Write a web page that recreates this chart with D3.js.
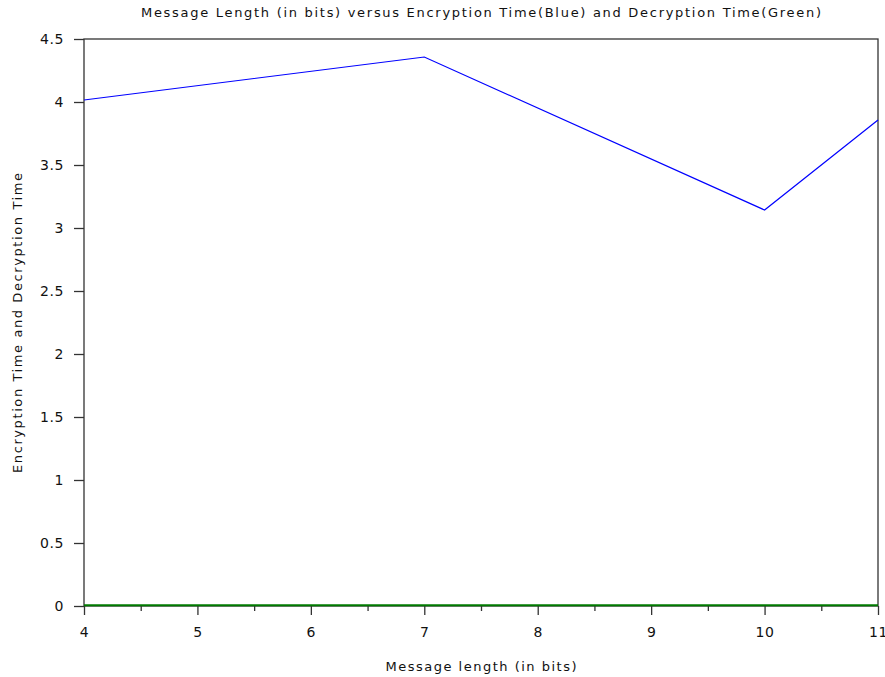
<!DOCTYPE html>
<html>
<head>
<meta charset="utf-8">
<script src="https://cdn.jsdelivr.net/npm/d3@7"></script>
<style>
  body { margin: 0; background: #fff; }
  text { font-family: "DejaVu Sans", sans-serif; fill: #111; }
</style>
</head>
<body>
<div id="chart"></div>
<script>
// Message length (bits) and times
var messageLengths = [4, 7, 10, 11]
var encryptionTimes = [4.016, 4.357, 3.143, 3.857]
var decryptionLengths = [4, 5, 6, 7, 8, 9, 10, 11]
var decryptionTimes = [0.006, 0.006, 0.006, 0.006, 0.006, 0.006, 0.006, 0.006]
var yTicks = [0, 0.5, 1, 1.5, 2, 2.5, 3, 3.5, 4, 4.5]
var xTicks = [4, 5, 6, 7, 8, 9, 10, 11]

var width = 885,
    height = 677,
    margin = { top: 39, right: 7, bottom: 71, left: 84 }

var svg = d3.select('#chart')
    .append('svg')
    .attr('width', width)
    .attr('height', height)

var x = d3.scaleLinear()
    .domain([4, 11])
    .range([margin.left, width - margin.right])

var y = d3.scaleLinear()
    .domain([0, 4.5])
    .range([height - margin.bottom, margin.top])

// frame round the plot
svg.append('rect')
    .attr('x', x(4))
    .attr('y', y(4.5))
    .attr('width', x(11) - x(4))
    .attr('height', y(0) - y(4.5))
    .attr('fill', 'none')
    .attr('stroke', '#333')
    .attr('stroke-width', 1.3)

// x axis, minor ticks first
var xMinor = d3.range(4.5, 11, 1)
svg.append('g')
    .attr('transform', 'translate(0,' + y(0) + ')')
    .call(d3.axisBottom(x).tickValues(xMinor).tickSize(5).tickFormat(''))
    .call(function(g) { g.select('.domain').remove() })
    .selectAll('line').attr('stroke', '#333').attr('stroke-width', 1.3)

var xAxis = svg.append('g')
    .attr('transform', 'translate(0,' + y(0) + ')')
    .call(d3.axisBottom(x).tickValues(xTicks).tickSize(9).tickPadding(12).tickFormat(d3.format('d')))
xAxis.select('.domain').remove()
xAxis.selectAll('line').attr('stroke', '#333').attr('stroke-width', 1.3)
xAxis.selectAll('text')
    .style('font-size', '14px')
    .style('letter-spacing', '0.6px')
    .attr('fill', '#111')

var yAxis = svg.append('g')
    .attr('transform', 'translate(' + x(4) + ',0)')
    .call(d3.axisLeft(y).tickValues(yTicks).tickSize(10).tickPadding(10).tickFormat(d3.format('')))
yAxis.select('.domain').remove()
yAxis.selectAll('line').attr('stroke', '#333').attr('stroke-width', 1.3)
yAxis.selectAll('text')
    .style('font-size', '14px')
    .style('letter-spacing', '0.6px')
    .attr('fill', '#111')

var line = d3.line()
    .x(function(d) { return x(d[0]) })
    .y(function(d) { return y(d[1]) })

svg.append('path')
    .datum(d3.zip(decryptionLengths, decryptionTimes))
    .attr('d', line)
    .attr('fill', 'none')
    .attr('stroke', '#007a00')
    .attr('stroke-width', 2)

svg.append('path')
    .datum(d3.zip(messageLengths, encryptionTimes))
    .attr('d', line)
    .attr('fill', 'none')
    .attr('stroke', '#0000ff')
    .attr('stroke-width', 1.2)

// titles
svg.append('text')
    .attr('x', 481)
    .attr('y', 17)
    .attr('text-anchor', 'middle')
    .attr('textLength', 680)
    .attr('lengthAdjust', 'spacing')
    .style('font-size', '13px')
    .style('font-weight', 500)
    .text('Message Length (in bits) versus Encryption Time(Blue) and Decryption Time(Green)')

svg.append('text')
    .attr('x', 481)
    .attr('y', 671)
    .attr('text-anchor', 'middle')
    .attr('textLength', 191)
    .attr('lengthAdjust', 'spacing')
    .style('font-size', '13px')
    .style('font-weight', 500)
    .text('Message length (in bits)')

svg.append('text')
    .attr('transform', 'translate(22,' + 323 + ') rotate(-90)')
    .attr('text-anchor', 'middle')
    .attr('textLength', 300)
    .attr('lengthAdjust', 'spacing')
    .style('font-size', '13px')
    .style('font-weight', 500)
    .text('Encryption Time and Decryption Time')
</script>
</body>
</html>
